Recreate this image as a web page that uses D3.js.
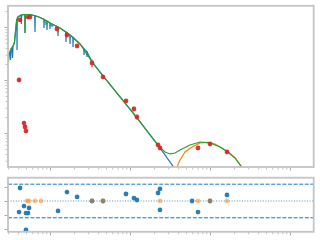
<!DOCTYPE html>
<html>
<head>
<meta charset="utf-8">
<script src="https://cdn.jsdelivr.net/npm/d3@7"></script>
<style>
body { margin: 0; background: #fff; }
svg { display: block; }
</style>
</head>
<body>
<svg id="chart"></svg>
<script>
// wavelength in micron, flux density in Jy
var starWave = [0.290, 0.299, 0.303, 0.307, 0.316, 0.321, 0.326, 0.335, 0.340, 0.345, 0.355, 0.360,
    0.370, 0.381, 0.385, 0.387, 0.390, 0.398, 0.422, 0.434, 0.438, 0.442, 0.473, 0.484, 0.487, 0.491,
    0.531, 0.596, 0.644, 0.649, 0.655, 0.668, 0.750, 0.837, 0.841, 0.849, 0.866, 0.912, 0.917, 0.925,
    0.994, 1.000, 1.009, 1.053, 1.059, 1.068, 1.252, 1.259, 1.270, 1.334, 1.576, 1.585, 1.599, 1.768,
    1.778, 1.794, 1.928, 1.939, 1.955, 2.371, 2.646, 2.661, 2.685, 2.884, 2.901, 2.926, 3.350, 4.597,
    7.499, 12.24, 23.71, 42.17];
var starFlux = [2.38, 2.72, 2.19, 3.10, 3.38, 2.38, 3.85, 4.02, 2.60, 4.38, 4.78, 5.21,
    8.05, 12.4, 14.2, 3.68, 14.8, 15.4, 16.5, 16.8, 11.4, 16.8, 17.2, 17.2, 7.71, 17.2,
    17.2, 16.8, 16.3, 8.05, 16.3, 16.1, 15.1, 14.0, 9.58, 13.9, 13.6, 13.0, 8.78, 12.9,
    12.0, 9.17, 11.9, 11.4, 10.0, 11.3, 10.0, 6.77, 9.91, 9.58, 8.05, 5.21, 7.94, 7.07,
    4.78, 7.00, 6.42, 4.20, 6.34, 4.78, 3.93, 2.96, 3.85, 3.38, 2.72, 3.33, 2.19, 1.19,
    0.478, 0.192, 0.0521, 0.0154];

var totalWave = [0.290, 0.307, 0.326, 0.345, 0.360, 0.370, 0.381, 0.398, 0.422, 0.473, 0.484, 0.487,
    0.491, 0.531, 0.596, 0.668, 0.750, 0.866, 0.886, 0.891, 0.899, 1.000, 1.334, 1.778, 2.371, 3.350,
    4.597, 7.499, 12.24, 17.78, 23.71, 27.38, 31.62, 36.52, 42.17, 56.23, 74.99, 100, 133.4, 167.9,
    205.4, 244.1, 273.8];
var totalFlux = [2.60, 3.10, 3.85, 4.38, 5.21, 8.05, 12.4, 15.4, 16.5, 17.2, 17.2, 7.71,
    17.2, 17.2, 16.8, 16.1, 15.1, 13.6, 13.3, 10.9, 13.1, 11.9, 9.58, 7.07, 4.78, 2.19,
    1.19, 0.478, 0.192, 0.0917, 0.0533, 0.0438, 0.0402, 0.0419, 0.0478, 0.0594, 0.0676, 0.0648, 0.0544, 0.0438,
    0.0337, 0.0238, 0.0192];

var dustWave = [37.58, 38.69, 42.17, 48.70, 59.57, 74.99, 94.4, 115.5, 133.4, 167.9, 205.4, 244.1, 273.8];
var dustFlux = [0.0209, 0.0228, 0.0310, 0.0438, 0.0544, 0.0648, 0.0662, 0.0620, 0.0544, 0.0438, 0.0337, 0.0238, 0.0192];

var obsWave = [0.422, 0.531, 0.562, 0.410, 0.473, 0.487, 0.501, 1.22, 1.63, 2.18, 3.35, 4.60,
    8.91, 11.2, 12.2, 22.4, 23.7, 70.8, 100, 163];
var obsFlux = [13.6, 15.4, 15.4, 1.00, 0.154, 0.130, 0.109, 9.17, 7.06, 4.38, 2.09, 1.14,
    0.402, 0.284, 0.200, 0.0594, 0.0521, 0.0521, 0.0620, 0.0438];
var obsErr = [1.0, 1.0, 1.0, 0.08, 0.015, 0.012, 0.010, 0.5, 0.4, 0.3, 0.35, 0.08,
    0.03, 0.03, 0.02, 0.004, 0.004, 0.004, 0.004, 0.004];

var resWave = [0.422, 0.410, 0.473, 0.501, 0.531, 0.547, 0.501, 1.26, 1.63, 2.18, 3.35, 4.60,
    8.91, 11.2, 12.2, 22.4, 23.7, 23.7, 59.6, 70.8, 100, 163];
var resValue = [0.93, -0.79, -0.36, -0.86, -0.86, -0.50, -2.07, -0.71, 0.64, 0.29, 0.0, 0.0,
    0.50, 0.21, 0.07, 0.57, 0.86, -0.64, 0.0, -0.79, 0.0, 0.43];

var limWave = [0.516, 0.547, 0.649, 0.772, 3.35, 4.60, 23.7, 70.8, 100, 163];
var limValue = [0, 0, 0, 0, 0, 0, 0, 0, 0, 0];

var xMajor = [1, 10, 100, 1000];
var yMajor = [0.1, 1, 10];
var resTicks = [-2, -1, 0, 1];
var resBand = [-1.2, 1.2];

var W = 320, H = 240;
var svg = d3.select("#chart").attr("width", W).attr("height", H);

var left = 8, right = 313.7;
var top1 = 5.8, bot1 = 167;
var top2 = 177.7, bot2 = 231.8;

var x = d3.scaleLog().domain([0.2985, 1977]).range([left, right]);
var y = d3.scaleLog().domain([0.0228, 25.1]).range([bot1, top1]);
var yr = d3.scaleLinear().domain([-2.2, 1.664]).range([bot2, top2]);

var SPINE = "#c4c4c4";
var TICK_MAJOR = "#a8a8a8";
var TICK_MINOR = "#c0c0c0";

svg.append("clipPath").attr("id", "clipTop")
    .append("rect").attr("x", left).attr("y", top1)
    .attr("width", right - left).attr("height", bot1 - top1);
svg.append("clipPath").attr("id", "clipBot")
    .append("rect").attr("x", left).attr("y", top2)
    .attr("width", right - left).attr("height", bot2 - top2);

// ticks ---->
function isMajor(v) {
    var l = Math.log10(v);
    return Math.abs(l - Math.round(l)) < 1e-6;
}
var xTicks = x.ticks();
var yTicks = y.ticks();

function drawAxis(g, axis, color) {
    g.call(axis);
    g.select(".domain").remove();
    g.selectAll("line").attr("stroke", color).attr("stroke-width", 1);
}

[bot1, bot2].forEach(function(yy) {
    drawAxis(svg.append("g").attr("transform", "translate(0," + yy + ")"),
        d3.axisBottom(x).tickValues(xTicks.filter(function(v) { return !isMajor(v); }))
            .tickSize(2.5).tickFormat(""), TICK_MINOR);
    drawAxis(svg.append("g").attr("transform", "translate(0," + yy + ")"),
        d3.axisBottom(x).tickValues(xMajor).tickSize(3.5).tickFormat(""), TICK_MAJOR);
});

drawAxis(svg.append("g").attr("transform", "translate(" + left + ",0)"),
    d3.axisLeft(y).tickValues(yTicks.filter(function(v) { return !isMajor(v); }))
        .tickSize(2.5).tickFormat(""), TICK_MINOR);
drawAxis(svg.append("g").attr("transform", "translate(" + left + ",0)"),
    d3.axisLeft(y).tickValues(yMajor).tickSize(3.5).tickFormat(""), TICK_MAJOR);
drawAxis(svg.append("g").attr("transform", "translate(" + left + ",0)"),
    d3.axisLeft(yr).tickValues(resTicks).tickSize(3.5).tickFormat(""), TICK_MAJOR);
// <---- ticks

// top panel: models + photometry
var line = d3.line()
    .x(function(d) { return x(d[0]); })
    .y(function(d) { return y(d[1]); });

var gTop = svg.append("g").attr("clip-path", "url(#clipTop)");

gTop.append("path").datum(d3.zip(starWave, starFlux))
    .attr("d", line).attr("fill", "none")
    .attr("stroke", "#1f77b4").attr("stroke-width", 1.2);
gTop.append("path").datum(d3.zip(dustWave, dustFlux))
    .attr("d", line).attr("fill", "none")
    .attr("stroke", "#ff7f0e").attr("stroke-width", 1.2);
gTop.append("path").datum(d3.zip(totalWave, totalFlux))
    .attr("d", line).attr("fill", "none")
    .attr("stroke", "#2ca02c").attr("stroke-width", 1.2);

var obs = d3.zip(obsWave, obsFlux, obsErr);
gTop.selectAll("line.err").data(obs).enter().append("line")
    .attr("class", "err")
    .attr("x1", function(d) { return x(d[0]); })
    .attr("x2", function(d) { return x(d[0]); })
    .attr("y1", function(d) { return y(d[1] + d[2]); })
    .attr("y2", function(d) { return y(Math.max(d[1] - d[2], 1e-4)); })
    .attr("stroke", "#d62728").attr("stroke-width", 1);
gTop.selectAll("circle.obs").data(obs).enter().append("circle")
    .attr("class", "obs")
    .attr("cx", function(d) { return x(d[0]); })
    .attr("cy", function(d) { return y(d[1]); })
    .attr("r", 2.4)
    .attr("fill", "#d62728").attr("fill-opacity", 0.9);

// bottom panel: residuals
var gBot = svg.append("g").attr("clip-path", "url(#clipBot)");

resBand.forEach(function(v) {
    gBot.append("line")
        .attr("x1", left).attr("x2", right)
        .attr("y1", yr(v)).attr("y2", yr(v))
        .attr("stroke", "#1f77b4").attr("stroke-width", 1)
        .attr("stroke-dasharray", "4,1.6");
});
gBot.append("line")
    .attr("x1", left).attr("x2", right)
    .attr("y1", yr(0)).attr("y2", yr(0))
    .attr("stroke", "#1f77b4").attr("stroke-opacity", 0.8).attr("stroke-width", 1)
    .attr("stroke-dasharray", "1,1.6");

gBot.selectAll("circle.res").data(d3.zip(resWave, resValue)).enter().append("circle")
    .attr("class", "res")
    .attr("cx", function(d) { return x(d[0]); })
    .attr("cy", function(d) { return yr(d[1]); })
    .attr("r", 2.4)
    .attr("fill", "#1f77b4").attr("fill-opacity", 0.95);
gBot.selectAll("circle.lim").data(d3.zip(limWave, limValue)).enter().append("circle")
    .attr("class", "lim")
    .attr("cx", function(d) { return x(d[0]); })
    .attr("cy", function(d) { return yr(d[1]); })
    .attr("r", 2.4)
    .attr("fill", "#ff7f0e").attr("fill-opacity", 0.5);

// frames
[[top1, bot1], [top2, bot2]].forEach(function(p) {
    svg.append("rect")
        .attr("x", left).attr("y", p[0])
        .attr("width", right - left).attr("height", p[1] - p[0])
        .attr("fill", "none").attr("stroke", SPINE).attr("stroke-width", 1.8);
});
</script>
</body>
</html>
